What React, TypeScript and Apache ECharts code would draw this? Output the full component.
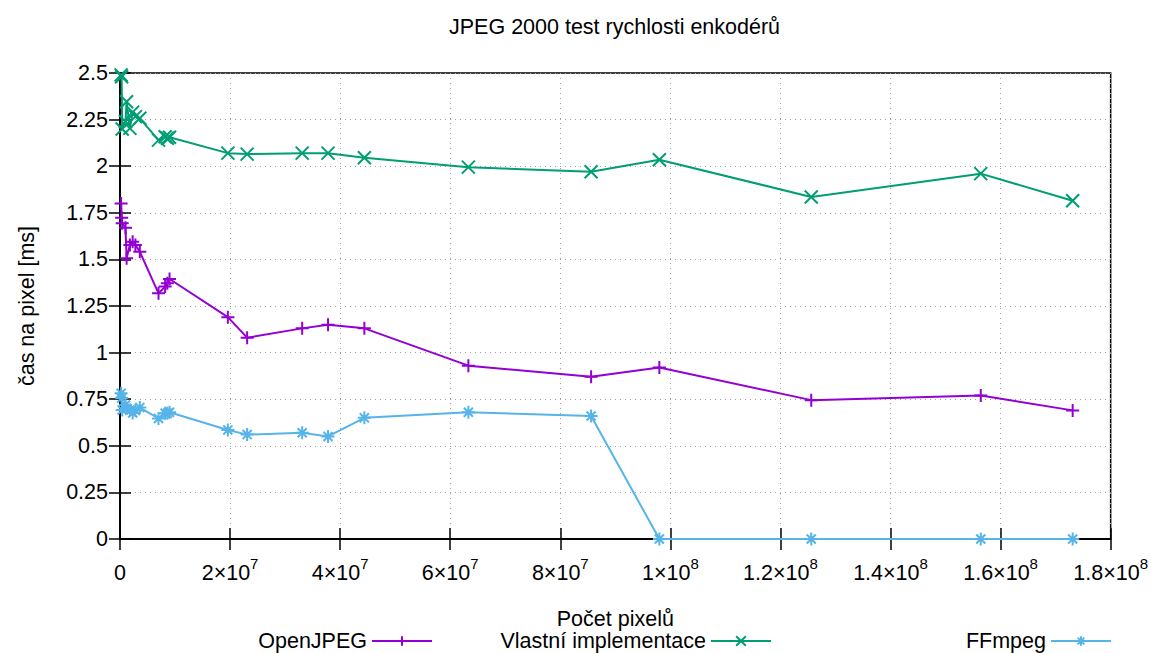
import React, { useEffect, useRef } from "react";
import * as echarts from "echarts";

const pixelCounts = [
  2.0e5, 3.0e5, 4.0e5, 1.0e6, 1.2e6, 1.8e6, 2.3e6, 2.8e6, 3.6e6, 7.0e6, 8.2e6, 8.6e6, 9.0e6,
  1.96e7, 2.31e7, 3.31e7, 3.78e7, 4.44e7, 6.33e7, 8.56e7, 9.8e7, 1.256e8, 1.564e8, 1.731e8,
];

const openJpeg = [
  1.8, 1.724, 1.694, 1.67, 1.506, 1.577, 1.595, 1.577, 1.541, 1.318, 1.354, 1.372, 1.395,
  1.19, 1.08, 1.13, 1.15, 1.13, 0.93, 0.87, 0.92, 0.745, 0.77, 0.69,
];

const vlastni = [
  2.49, 2.48, 2.2, 2.239, 2.346, 2.203, 2.29, 2.266, 2.257, 2.14, 2.158, 2.15, 2.155,
  2.07, 2.065, 2.07, 2.07, 2.045, 1.995, 1.97, 2.035, 1.835, 1.96, 1.815,
];

const ffmpeg = [
  0.782, 0.756, 0.692, 0.719, 0.7, 0.692, 0.676, 0.69, 0.705, 0.647, 0.674, 0.674, 0.68,
  0.585, 0.56, 0.57, 0.55, 0.65, 0.68, 0.66, 0, 0, 0, 0,
];

const seriesNames = ["OpenJPEG", "Vlastní implementace", "FFmpeg"];
const xTickMantissas: Record<number, string> = {
  20000000: "2", 40000000: "4", 60000000: "6", 80000000: "8",
  100000000: "1", 120000000: "1.2", 140000000: "1.4", 160000000: "1.6", 180000000: "1.8",
};

const FONT = "Liberation Sans";
const FS = 21.5;
const PLUS = "path://M0,5L10,5M5,0L5,10";
const CROSS = "path://M0,0L10,10M0,10L10,0";
const STAR = "path://M0,5L10,5M5,0L5,10M1.5,1.5L8.5,8.5M1.5,8.5L8.5,1.5";

function pairs(ys: number[]) {
  return pixelCounts.map((x, i) => [x, ys[i]]);
}

export default function App() {
  const ref = useRef<HTMLDivElement>(null);
  useEffect(() => {
    if (!ref.current) return;
    const chart = echarts.init(ref.current, undefined, { renderer: "svg" });
    const mkSeries = (name: string, ys: number[], color: string, symbol: string) => ({
      name,
      type: "line",
      data: pairs(ys),
      symbol,
      symbolSize: 13,
      showAllSymbol: true,
      clip: false,
      lineStyle: { color, width: 2 },
      itemStyle: { color, borderColor: color, borderWidth: 2 },
      emphasis: { disabled: true },
    });
    const tickStyle = { inside: true, length: 11, lineStyle: { color: "#000", width: 1.5 } };
    const legendCommon = {
      top: 630,
      align: "right",
      itemWidth: 60,
      itemHeight: 12,
      padding: 0,
      textStyle: { fontFamily: FONT, fontSize: FS, color: "#000", lineHeight: 22 },
      selectedMode: false,
    };
    chart.setOption({
      animation: false,
      backgroundColor: "#fff",
      title: {
        text: "JPEG 2000 test rychlosti enkodérů",
        left: 449,
        top: 16,
        padding: 0,
        textStyle: { fontFamily: FONT, fontSize: FS, fontWeight: "normal", color: "#000" },
      },
      grid: {
        left: 120, right: 40, top: 73, bottom: 114,
        show: true, borderColor: "#000", borderWidth: 1.5, backgroundColor: "transparent",
      },
      legend: [
        { ...legendCommon, right: 718, data: [seriesNames[0]] },
        { ...legendCommon, right: 379, data: [seriesNames[1]] },
        { ...legendCommon, right: 39, data: [seriesNames[2]] },
      ],
      xAxis: [
        {
          type: "value",
          min: 0, max: 180000000, interval: 20000000,
          name: "Počet pixelů",
          nameLocation: "middle",
          nameGap: 69,
          nameTextStyle: { fontFamily: FONT, fontSize: FS, color: "#000", lineHeight: 22 },
          axisLine: { show: true, lineStyle: { color: "#000", width: 1.5 } },
          axisTick: tickStyle,
          splitLine: { show: true, lineStyle: { color: "#a0a0a0", width: 1, type: [1, 4] } },
          axisLabel: {
            margin: 17,
            fontFamily: FONT, fontSize: FS, color: "#000",
            formatter: (v: number) => {
              if (v === 0) return "{m|0}";
              const m = xTickMantissas[Math.round(v)];
              const e = v >= 1e8 ? "8" : "7";
              return `{m|${m}×10}{s|${e}}`;
            },
            rich: {
              m: { fontFamily: FONT, fontSize: FS, color: "#000", lineHeight: 28, verticalAlign: "bottom" },
              s: { fontFamily: FONT, fontSize: 15, color: "#000", lineHeight: 15, verticalAlign: "top" },
            },
          },
        },
        {
          type: "value",
          position: "top",
          min: 0, max: 180000000, interval: 20000000,
          axisLine: { show: true, lineStyle: { color: "#000", width: 1.5 } },
          axisTick: tickStyle,
          axisLabel: { show: false },
          splitLine: { show: false },
        },
      ],
      yAxis: [
        {
          type: "value",
          min: 0, max: 2.5, interval: 0.25,
          name: "čas na pixel [ms]",
          nameLocation: "middle",
          nameGap: 82,
          nameTextStyle: { fontFamily: FONT, fontSize: FS, color: "#000" },
          axisLine: { show: true, lineStyle: { color: "#000", width: 1.5 } },
          axisTick: tickStyle,
          splitLine: { show: true, lineStyle: { color: "#a0a0a0", width: 1, type: [1, 4] } },
          axisLabel: { margin: 12, fontFamily: FONT, fontSize: FS, color: "#000" },
        },
        {
          type: "value",
          position: "right",
          min: 0, max: 2.5, interval: 0.25,
          axisLine: { show: true, lineStyle: { color: "#000", width: 1.5 } },
          axisTick: tickStyle,
          axisLabel: { show: false },
          splitLine: { show: false },
        },
      ],
      series: [
        mkSeries(seriesNames[0], openJpeg, "#9400d3", PLUS),
        mkSeries(seriesNames[1], vlastni, "#009e73", CROSS),
        mkSeries(seriesNames[2], ffmpeg, "#56b4e9", STAR),
      ],
    });
    return () => chart.dispose();
  }, []);
  return (
    <div
      ref={ref}
      style={{ position: "fixed", left: 0, top: 0, width: 1151, height: 653, background: "#fff" }}
    />
  );
}
